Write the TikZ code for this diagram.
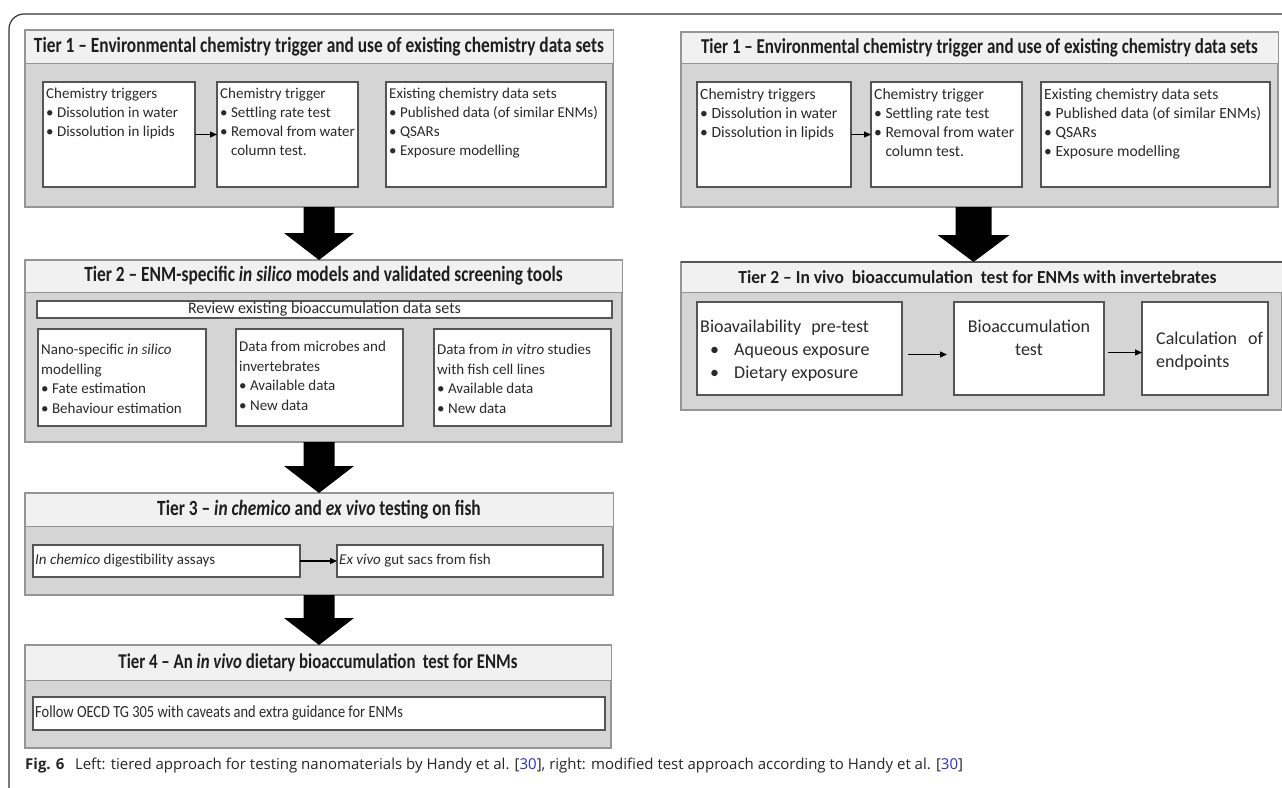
\documentclass[tikz,border=0pt]{standalone}
\usepackage{fontspec}
\setmainfont{Carlito}
\newfontfamily\hfont[FakeStretch=0.80]{Carlito}
\newfontfamily\dfont[FakeStretch=0.85]{Carlito}
\newfontfamily\rfont[FakeStretch=0.95]{Carlito}
\newfontfamily\capfont{Open Sans}
\usetikzlibrary{calc,arrows.meta}
\definecolor{bodyc}{HTML}{D5D5D5}
\definecolor{headc}{HTML}{F1F1F1}
\definecolor{bordc}{HTML}{959595}
\definecolor{iboxc}{HTML}{555555}
\definecolor{framec}{HTML}{333333}
\definecolor{txtc}{HTML}{2A2A2A}
\definecolor{htxtc}{HTML}{1E1E1E}
\definecolor{linkc}{HTML}{2B2BE0}
\newcommand\bigarrow[4]{%
  \fill[black] ($(#1)+(-#3,0)$) -- ($(#2)+(-#3,-27)$) -- ($(#2)+(-#4,-27)$) -- (#2)
    -- ($(#2)+(#4,-27)$) -- ($(#2)+(#3,-27)$) -- ($(#1)+(#3,0)$) -- cycle;}
\begin{document}
\begin{tikzpicture}[x=1pt,y=-1pt,
  tbody/.style={draw=bordc, fill=bodyc, line width=1.2pt, inner sep=0pt, outer sep=0pt, anchor=north west},
  thead/.style={draw=bordc, fill=headc, line width=1pt, inner sep=0pt, outer sep=0pt, anchor=north west},
  ibox/.style={draw=iboxc, fill=white, line width=1.4pt, inner sep=0pt, outer sep=0pt, anchor=north west},
  htext/.style={font=\hfont\bfseries\fontsize{21.7}{25}\selectfont, text=htxtc, inner sep=0pt},
  h4text/.style={htext, font=\hfont\bfseries\fontsize{21}{25}\selectfont},
  rh1text/.style={htext, font=\hfont\bfseries\fontsize{21.2}{25}\selectfont},
  rhtext/.style={font=\rfont\bfseries\fontsize{18.4}{22}\selectfont, text=htxtc, inner sep=0pt},
  btext/.style={font=\rmfamily\fontsize{15}{19}\selectfont, text=txtc, inner sep=0pt, anchor=north west, align=left},
  rbtext/.style={btext, font=\rmfamily\fontsize{15.6}{19}\selectfont},
  rtext/.style={font=\rmfamily\fontsize{18}{23}\selectfont, text=txtc, inner sep=0pt, anchor=north west, align=left},
  conn/.style={-{Triangle[length=7pt,width=6pt]}, line width=1.1pt, black}
]
\useasboundingbox (0,0) rectangle (1282,787);
\fill[white] (0,0) rectangle (1282,787);
% outer frame
\draw[framec, line width=1.2pt, rounded corners=15pt] (9,800) -- (9,14) -- (1290,14);

% ================= LEFT =================
% Tier 1
\node[tbody, minimum width=588, minimum height=177] (T1) at (25,30) {};
\node[thead, minimum width=588, minimum height=33] (T1h) at (25,30) {};
\node[htext] (T1t) at (T1h.center) {Tier 1 – Environmental chemistry trigger and use of existing chemistry data sets};
\node[ibox, minimum width=152, minimum height=105] (A) at (43,82) {};
\node[ibox, minimum width=141, minimum height=105] (B) at (217,82) {};
\node[ibox, minimum width=220, minimum height=105] (C) at (386,82) {};
\node[btext] (At) at ($(A.north west)+(3,6)$) {Chemistry triggers\\• Dissolution in water\\• Dissolution in lipids};
\node[btext] (Bt) at ($(B.north west)+(3,6)$) {Chemistry trigger\\• Settling rate test\\• Removal from water\\\hphantom{• }column test.};
\node[btext] (Ct) at ($(C.north west)+(3,6)$) {Existing chemistry data sets\\• Published data (of similar ENMs)\\• QSARs\\• Exposure modelling};
\draw[conn] (A.east) -- (B.west);

% Tier 2
\node[tbody, minimum width=597, minimum height=182] (T2) at (25,260) {};
\node[thead, minimum width=597, minimum height=32] (T2h) at (25,260) {};
\node[htext] (T2t) at (T2h.center) {Tier 2 – ENM-specific \textit{in silico} models and validated screening tools};
\node[ibox, minimum width=575, minimum height=17, line width=1.2pt] (R) at (37,301) {};
\node[btext, anchor=center, font=\rmfamily\fontsize{16}{17}\selectfont] (Rt) at (R.center) {Review existing bioaccumulation data sets};
\node[ibox, minimum width=168, minimum height=97] (D) at (38,329) {};
\node[ibox, minimum width=167, minimum height=97] (E) at (236,329) {};
\node[ibox, minimum width=177, minimum height=97] (F) at (434,329) {};
\node[btext, font=\rmfamily\fontsize{15}{19.5}\selectfont] (Dt) at ($(D.north west)+(3,15)$) {Nano-specific \textit{in silico}\\modelling\\• Fate estimation\\• Behaviour estimation};
\node[btext, font=\rmfamily\fontsize{15}{19.5}\selectfont] (Et) at ($(E.north west)+(3,12)$) {Data from microbes and\\invertebrates\\• Available data\\• New data};
\node[btext, font=\rmfamily\fontsize{15}{19.5}\selectfont] (Ft) at ($(F.north west)+(3,15)$) {Data from \textit{in vitro} studies\\with fish cell lines\\• Available data\\• New data};

% Tier 3
\node[tbody, minimum width=588, minimum height=102] (T3) at (25,493) {};
\node[thead, minimum width=588, minimum height=33] (T3h) at (25,493) {};
\node[htext] (T3t) at (T3h.center) {Tier 3 – \textit{in chemico} and \textit{ex vivo} testing on fish};
\node[ibox, minimum width=267, minimum height=32] (G) at (33,545) {};
\node[ibox, minimum width=266, minimum height=32] (H) at (337,545) {};
\node[btext, anchor=west] (Gt) at ($(G.west)+(2,0)$) {\textit{In chemico} digestibility assays};
\node[btext, anchor=west] (Ht) at ($(H.west)+(2,0)$) {\textit{Ex vivo} gut sacs from fish};
\draw[conn] (G.east) -- (H.west);

% Tier 4
\node[tbody, minimum width=586, minimum height=103] (T4) at (25,645) {};
\node[thead, minimum width=586, minimum height=35] (T4h) at (25,645) {};
\node[h4text] (T4t) at (T4h.center) {Tier 4 – An \textit{in vivo} dietary bioaccumulation\, test for ENMs};
\node[ibox, minimum width=572, minimum height=33] (O) at (33,697) {};
\node[btext, anchor=west, font=\dfont\fontsize{17}{19}\selectfont] (Ot) at ($(O.west)+(2,0)$) {Follow OECD TG 305 with caveats and extra guidance for ENMs};

% big arrows left
\coordinate (a1e) at (T1.south |- T2.north);
\coordinate (a2e) at (T1.south |- T3.north);
\coordinate (a3e) at (T1.south |- T4.north);
\coordinate (a2s) at (T1.south |- T2.south);
\bigarrow{T1.south}{a1e}{15.5}{35}
\bigarrow{a2s}{a2e}{15.5}{35}
\bigarrow{T3.south}{a3e}{15.5}{35}

% ================= RIGHT =================
\node[tbody, minimum width=597, minimum height=175] (RT1) at (681,32) {};
\node[thead, minimum width=597, minimum height=31] (RT1h) at (681,32) {};
\node[rh1text] (RT1t) at (RT1h.center) {Tier 1 – Environmental chemistry trigger and use of existing chemistry data sets};
\node[ibox, minimum width=154, minimum height=105] (RA) at (697,82) {};
\node[ibox, minimum width=151, minimum height=105] (RB) at (871,82) {};
\node[ibox, minimum width=229, minimum height=105] (RC) at (1041,82) {};
\node[rbtext] (RAt) at ($(RA.north west)+(3,6)$) {Chemistry triggers\\• Dissolution in water\\• Dissolution in lipids};
\node[rbtext] (RBt) at ($(RB.north west)+(3,6)$) {Chemistry trigger\\• Settling rate test\\• Removal from water\\\hphantom{• }column test.};
\node[rbtext] (RCt) at ($(RC.north west)+(3,6)$) {Existing chemistry data sets\\• Published data (of similar ENMs)\\• QSARs\\• Exposure modelling};
\draw[conn] (RA.east) -- (RB.west);

\node[tbody, minimum width=601, minimum height=148] (RT2) at (681,262) {};
\node[thead, minimum width=601, minimum height=30] (RT2h) at (681,262) {};
\draw[iboxc, line width=1.3pt] (RT2h.north west) -- (RT2h.north east);
\node[rhtext] (RT2t) at ($(RT2h.center)+(-4,0)$) {Tier 2 – In vivo\ \ bioaccumulation\ \ test for ENMs with invertebrates};
\node[ibox, minimum width=205, minimum height=93] (I) at (697,302) {};
\node[ibox, minimum width=150, minimum height=93] (J) at (954,302) {};
\node[ibox, minimum width=126, minimum height=93] (K) at (1142,302) {};
\node[rtext] (It) at ($(I.north west)+(3,17.5)$) {Bioavailability\hspace{10pt}pre-test\\\makebox[34pt][l]{\hspace{10pt}•}Aqueous exposure\\\makebox[34pt][l]{\hspace{10pt}•}Dietary exposure};
\node[rtext, align=center, anchor=north] (Jt) at ($(J.north)+(0,17.5)$) {Bioaccumulation\\test};
\node[rtext] (Kt) at ($(K.north west)+(14,29.5)$) {Calculation\hspace{11pt}of\\endpoints};
\draw[conn, shorten <=6pt, shorten >=7pt] ($(I.east)+(0,6)$) -- ($(J.west)+(0,6)$);
\draw[conn, shorten <=4pt] ($(J.east)+(0,4)$) -- ($(K.west)+(0,4)$);

\coordinate (r1s) at ($(RT1.south)+(-6,0)$);
\coordinate (r1e) at (r1s |- RT2.north);
\bigarrow{r1s}{r1e}{18}{36}

% caption
\node[anchor=base west, inner sep=0pt, font=\capfont\fontsize{15}{18}\selectfont, text=black!85] (cap) at (25,769)
  {\textbf{Fig. 6}\hspace{0.7em}Left: tiered approach for testing nanomaterials by Handy et al. [\textcolor{linkc}{30}], right: modified test approach according to Handy et al. [\textcolor{linkc}{30}]};
\end{tikzpicture}
\end{document}
